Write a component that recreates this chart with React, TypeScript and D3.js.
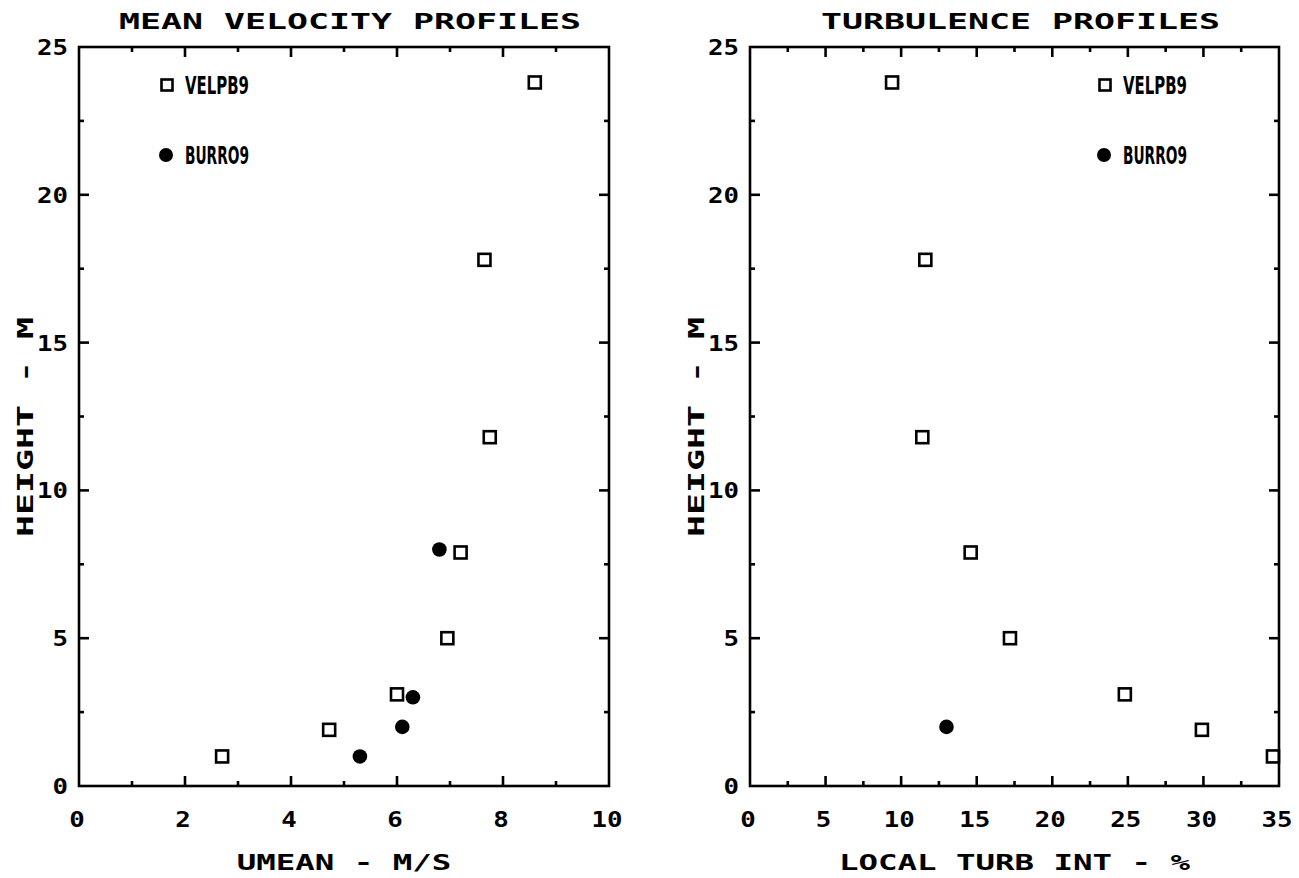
import React from "react";
import * as d3 from "d3";

// ---- data ----
const velHeights = [1.0, 1.9, 3.1, 5.0, 7.9, 11.8, 17.8, 23.8];
const velUmean = [2.7, 4.72, 6.0, 6.95, 7.2, 7.75, 7.65, 8.6];
const velTurb = [34.6, 29.9, 24.8, 17.2, 14.6, 11.4, 11.6, 9.4];
const burroHeights = [1.0, 2.0, 3.0, 8.0];
const burroUmean = [5.3, 6.1, 6.3, 6.8];
const burroTurbHeights = [2.0];
const burroTurb = [13.0];

const leftXTicks = [0, 2, 4, 6, 8, 10];
const rightXTicks = [0, 5, 10, 15, 20, 25, 30, 35];
const yTicks = [0, 5, 10, 15, 20, 25];
const legendNames = ["VELPB9", "BURRO9"];

const FONT = "'DejaVu Sans Mono', monospace";
const SW = 2.6;

type PanelProps = {
  title: string;
  xLabel: string;
  xDomain: [number, number];
  xRange: [number, number];
  xMajorStep: number;
  xMinorStep: number;
  xTickLabels: number[];
  sq: { x: number[]; y: number[] };
  ci: { x: number[]; y: number[] };
  legendX: number;
  yTitleX: number;
};

function textLen(s: string, per: number) {
  return s.length * per;
}

function Panel(p: PanelProps) {
  const x = d3.scaleLinear().domain(p.xDomain).range(p.xRange);
  const y = d3.scaleLinear().domain([0, 25]).range([786, 47]);
  const [x0, x1] = p.xRange;
  const [yb, yt] = [y(0), y(25)];
  const xMinor = d3.range(p.xDomain[0], p.xDomain[1] + 1e-9, p.xMinorStep);
  const yMinor = d3.range(0, 25 + 1e-9, 2.5);
  const isMajorX = (v: number) => Math.abs(v / p.xMajorStep - Math.round(v / p.xMajorStep)) < 1e-6;
  const isMajorY = (v: number) => Math.abs(v / 5 - Math.round(v / 5)) < 1e-6;
  const MAJ = 10, MIN = 5;
  const cx = (x0 + x1) / 2 + 6;
  const legY1 = 85, legY2 = 155;
  return (
    <g>
      {/* frame */}
      <rect x={x0} y={yt} width={x1 - x0} height={yb - yt} fill="none" stroke="#000" strokeWidth={SW} />
      {/* x ticks bottom/top */}
      {xMinor.map((v, i) => {
        const L = isMajorX(v) ? MAJ : MIN;
        if (v <= p.xDomain[0] + 1e-9 || v >= p.xDomain[1] - 1e-9) return null;
        return (
          <g key={"xt" + i}>
            <line x1={x(v)} x2={x(v)} y1={yb} y2={yb - L} stroke="#000" strokeWidth={SW} />
            <line x1={x(v)} x2={x(v)} y1={yt} y2={yt + L} stroke="#000" strokeWidth={SW} />
          </g>
        );
      })}
      {yMinor.map((v, i) => {
        const L = isMajorY(v) ? MAJ : MIN;
        if (v <= 0 || v >= 25) return null;
        return (
          <g key={"yt" + i}>
            <line x1={x0} x2={x0 + L} y1={y(v)} y2={y(v)} stroke="#000" strokeWidth={SW} />
            <line x1={x1} x2={x1 - L} y1={y(v)} y2={y(v)} stroke="#000" strokeWidth={SW} />
          </g>
        );
      })}
      {/* tick labels */}
      {p.xTickLabels.map((v) => {
        const s = String(v);
        return (
          <text key={"xl" + v} x={x(v) - 2} y={819} dy="0.36em" textAnchor="middle" fontFamily={FONT}
            fontWeight="bold" fontSize={22} textLength={textLen(s, 15.5)} lengthAdjust="spacingAndGlyphs">{s}</text>
        );
      })}
      {yTicks.map((v) => {
        const s = String(v);
        return (
          <text key={"yl" + v} x={x0 - 11} y={y(v)} dy="0.36em" textAnchor="end" fontFamily={FONT}
            fontWeight="bold" fontSize={22} textLength={textLen(s, 15.5)} lengthAdjust="spacingAndGlyphs">{s}</text>
        );
      })}
      {/* title */}
      <text x={cx} y={21} dy="0.36em" textAnchor="middle" fontFamily={FONT} fontWeight="bold" fontSize={22}
        textLength={textLen(p.title, 21)} lengthAdjust="spacingAndGlyphs">{p.title}</text>
      {/* x label */}
      <text x={cx - 6} y={862} dy="0.36em" textAnchor="middle" fontFamily={FONT} fontWeight="bold" fontSize={22}
        textLength={textLen(p.xLabel, 19.5)} lengthAdjust="spacingAndGlyphs">{p.xLabel}</text>
      {/* y label */}
      <text transform={`translate(${p.yTitleX},427) rotate(-90)`} dy="0.36em" textAnchor="middle" fontFamily={FONT}
        fontWeight="bold" fontSize={22} textLength={textLen("HEIGHT - M", 22)} lengthAdjust="spacingAndGlyphs">HEIGHT - M</text>
      {/* data: squares */}
      {p.sq.x.map((v, i) => (
        <rect key={"s" + i} x={x(v) - 6} y={y(p.sq.y[i]) - 6} width={12} height={12} fill="none" stroke="#000" strokeWidth={SW} />
      ))}
      {p.ci.x.map((v, i) => (
        <circle key={"c" + i} cx={x(v)} cy={y(p.ci.y[i])} r={7.3} fill="#000" />
      ))}
      {/* legend */}
      <rect x={p.legendX - 5.5} y={legY1 - 5.5} width={11} height={11} fill="none" stroke="#000" strokeWidth={SW} />
      <text x={p.legendX + 18} y={legY1} dy="0.36em" fontFamily="'DejaVu Sans', sans-serif" fontWeight="bold" fontSize={24}
        textLength={64} lengthAdjust="spacingAndGlyphs">{legendNames[0]}</text>
      <circle cx={p.legendX - 1} cy={legY2} r={7} fill="#000" />
      <text x={p.legendX + 18} y={legY2} dy="0.36em" fontFamily="'DejaVu Sans', sans-serif" fontWeight="bold" fontSize={24}
        textLength={64} lengthAdjust="spacingAndGlyphs">{legendNames[1]}</text>
    </g>
  );
}

export default function App() {
  return (
    <svg width={1299} height={878} style={{ position: "absolute", left: 0, top: 0, background: "#fff" }}>
      <rect width={1299} height={878} fill="#fff" />
      <Panel
        title="MEAN VELOCITY PROFILES"
        xLabel="UMEAN - M/S"
        xDomain={[0, 10]}
        xRange={[79, 609]}
        xMajorStep={2}
        xMinorStep={1}
        xTickLabels={leftXTicks}
        sq={{ x: velUmean, y: velHeights }}
        ci={{ x: burroUmean, y: burroHeights }}
        legendX={167}
        yTitleX={25}
      />
      <Panel
        title="TURBULENCE PROFILES"
        xLabel="LOCAL TURB INT - %"
        xDomain={[0, 35]}
        xRange={[750, 1279]}
        xMajorStep={5}
        xMinorStep={2.5}
        xTickLabels={rightXTicks}
        sq={{ x: velTurb, y: velHeights }}
        ci={{ x: burroTurb, y: burroTurbHeights }}
        legendX={1105}
        yTitleX={696}
      />
    </svg>
  );
}
